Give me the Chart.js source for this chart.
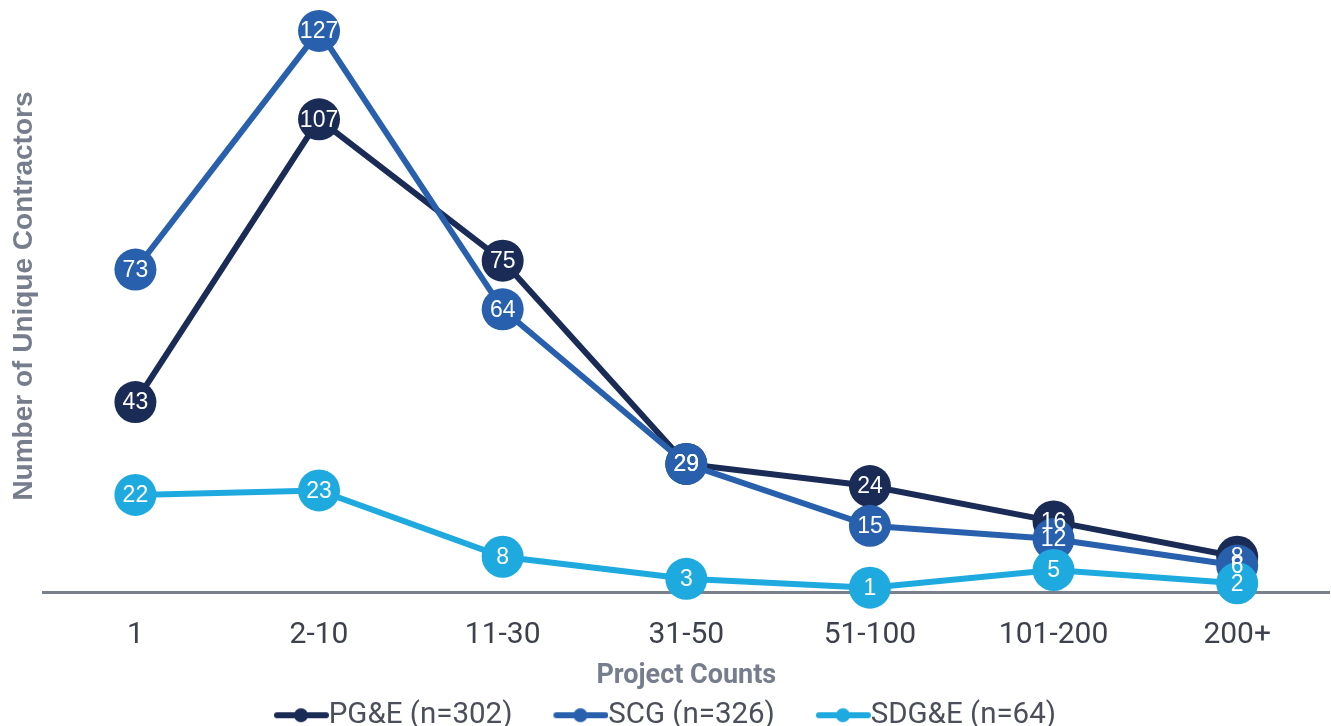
<!DOCTYPE html>
<html>
<head>
<meta charset="utf-8">
<script src="https://cdn.jsdelivr.net/npm/chart.js@4/dist/chart.umd.min.js"></script>
<style>
  html, body { margin: 0; padding: 0; background: #fff; }
  #wrap { width: 1331px; height: 726px; }
</style>
</head>
<body>
<div id="wrap"><canvas id="chart" width="1331" height="726"></canvas></div>
<script>
const categories = ["1", "2-10", "11-30", "31-50", "51-100", "101-200", "200+"];
const pge = [43, 107, 75, 29, 24, 16, 8];
const scg = [73, 127, 64, 29, 15, 12, 6];
const sdge = [22, 23, 8, 3, 1, 5, 2];
const seriesNames = ["PG&E (n=302)", "SCG (n=326)", "SDG&E (n=64)"];
const colors = ["#1a2b56", "#2860ad", "#1eaadf"];

const narrow = "Roboto, 'Liberation Sans', sans-serif";
const gothic = "'Liberation Sans', Arial, sans-serif";

// legend box is BOX_W wide; the marker image overhangs on the right so
// the line runs right up to the label text
const BOX_W = 71;
function legendMarker(color) {
  const c = document.createElement("canvas");
  c.width = BOX_W + 30;
  c.height = 16;
  const g = c.getContext("2d");
  const x0 = c.width - 55, x1 = c.width - 1;
  g.strokeStyle = color;
  g.lineWidth = 6;
  g.lineCap = "round";
  g.beginPath();
  g.moveTo(x0 + 3, 8);
  g.lineTo(x1 - 2, 8);
  g.stroke();
  g.fillStyle = color;
  g.beginPath();
  g.arc((x0 + x1) / 2, 8, 7, 0, Math.PI * 2);
  g.fill();
  return c;
}
const markers = colors.map(legendMarker);

// white value text on top of each point
const valueLabels = {
  id: "valueLabels",
  afterDatasetsDraw(chart) {
    const ctx = chart.ctx;
    ctx.save();
    ctx.fillStyle = "#ffffff";
    ctx.font = "23px " + gothic;
    ctx.textAlign = "center";
    ctx.textBaseline = "middle";
    chart.data.datasets.forEach((ds, i) => {
      const meta = chart.getDatasetMeta(i);
      meta.data.forEach((pt, j) => {
        ctx.fillText(String(ds.data[j]), pt.x, pt.y + 1);
      });
    });
    ctx.restore();
  }
};

// the empty left part of each marker image pushes the legend right, pull it back
const legendNudge = {
  id: "legendNudge",
  afterLayout(chart) {
    if (chart.legend) {
      chart.legend.left -= 15;
      chart.legend.right -= 15;
    }
  }
};

function makeSet(label, data, color, order) {
  return {
    label: label,
    data: data,
    borderColor: color,
    backgroundColor: color,
    borderWidth: 6,
    pointRadius: 21,
    pointHoverRadius: 21,
    pointBorderWidth: 0,
    tension: 0,
    clip: false,
    order: order
  };
}

new Chart(document.getElementById("chart").getContext("2d"), {
  type: "line",
  data: {
    labels: categories,
    datasets: [
      makeSet(seriesNames[0], pge, colors[0], 3),
      makeSet(seriesNames[1], scg, colors[1], 2),
      makeSet(seriesNames[2], sdge, colors[2], 1)
    ]
  },
  options: {
    responsive: false,
    animation: false,
    layout: { autoPadding: false, padding: { top: 0, right: 2, bottom: -14, left: 0 } },
    scales: {
      x: {
        offset: true,
        grid: { display: false, drawTicks: false },
        border: { display: true, color: "#7a7f8c", width: 3 },
        ticks: {
          color: "#3c414c",
          font: { family: narrow, size: 30 },
          padding: 25
        },
        title: {
          display: true,
          text: "Project Counts",
          color: "#767d8c",
          font: { family: narrow, size: 27, weight: "bold" },
          padding: { top: -18, bottom: -2 }
        }
      },
      y: {
        min: 0,
        max: 134,
        grid: { display: false },
        border: { display: false },
        ticks: { display: false },
        title: {
          display: true,
          text: "Number of Unique Contractors",
          color: "#767d8c",
          font: { family: gothic, size: 28, weight: "bold" },
          padding: { top: 7, bottom: -5 }
        }
      }
    },
    plugins: {
      tooltip: { enabled: false },
      legend: {
        position: "bottom",
        labels: {
          color: "#4a4f5a",
          font: { family: narrow, size: 29.5 },
          usePointStyle: true,
          pointStyleWidth: BOX_W,
          boxHeight: 16,
          padding: 10,
          generateLabels(chart) {
            return chart.data.datasets.map((ds, i) => ({
              text: ds.label,
              fillStyle: ds.borderColor,
              strokeStyle: ds.borderColor,
              fontColor: "#4a4f5a",
              pointStyle: markers[i],
              lineWidth: 0,
              hidden: false,
              datasetIndex: i
            }));
          }
        }
      }
    }
  },
  plugins: [valueLabels, legendNudge]
});
</script>
</body>
</html>
